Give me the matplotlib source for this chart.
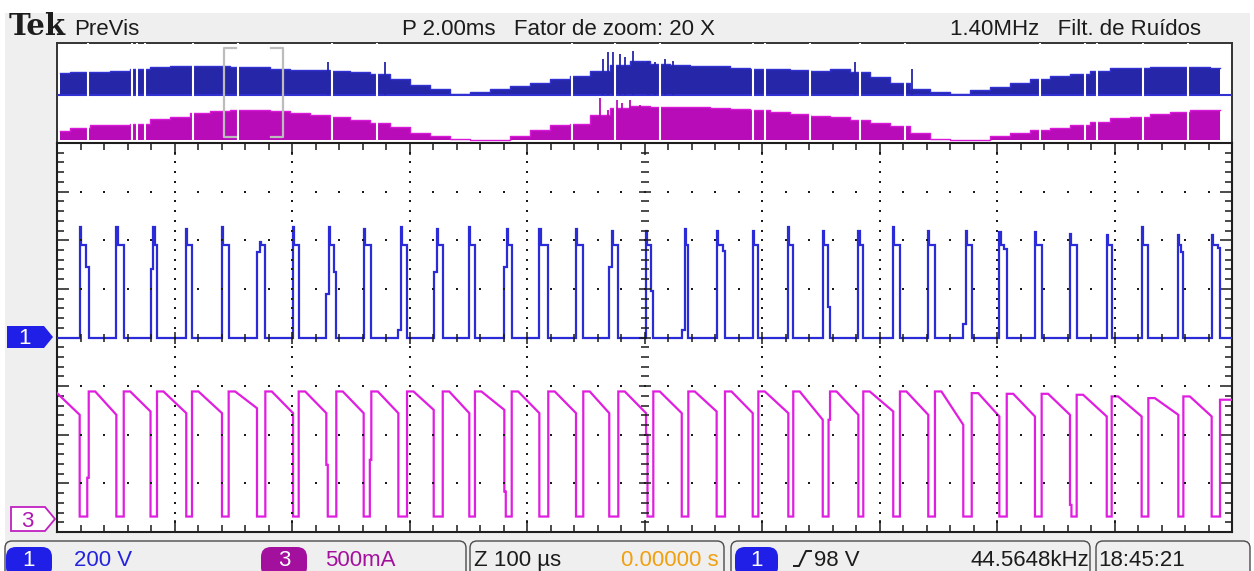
import numpy as np
import matplotlib
matplotlib.use("Agg")
import matplotlib.pyplot as plt
from matplotlib.patches import Rectangle, FancyBboxPatch, Polygon

# ---------------- zoom window: channel 1 (200 V/div) ----------------
ch1_rise_us = [-480.7, -449.5, -420.4, -390.0, -359.6, -329.8, -299.1, -270.8, -239.0, -209.5, -179.4,
               -149.1, -119.3, -89.5, -58.3, -30.0, 1.3, 31.7, 61.4, 92.1, 122.4, 151.7,
               182.0, 211.7, 241.5, 271.3, 302.0, 332.3, 362.1, 393.4, 423.1, 454.3, 482.7]
ch1_fall_us = [-473.0, -443.2, -414.9, -385.1, -353.9, -322.7, -294.3, -262.3, -232.5, -202.1, -171.7,
               -144.3, -113.0, -81.9, -52.1, -22.3, 7.5, 37.3, 68.5, 96.9, 126.6, 157.9,
               186.2, 217.4, 247.2, 278.5, 308.3, 338.0, 367.8, 397.6, 428.8, 458.6, 489.8]
ch1_peak_v = [454, 454, 454, 447, 454, 392, 454, 454, 447, 454, 447,
              454, 447, 447, 447, 440, 440, 447, 440, 440, 454, 440,
              440, 454, 440, 440, 433, 433, 427, 420, 454, 420, 420]
ch1_pre_v = [0, 0, 283, 0, 0, 351, 0, 180, 0, 29, 269,
             0, 289, 0, 0, 289, 0, 29, 0, 0, 0, 0,
             0, 0, 0, 56, 0, 0, 0, 0, 0, 0, 0]
ch1_tail_v = [289, 0, 0, 0, 0, 0, 0, 269, 0, 0, 0,
              0, 0, 0, 0, 0, 193, 0, 355, 0, 0, 125,
              0, 0, 0, 0, 364, 0, 0, 0, 0, 351, 370]
ch1_plateau_v = 382

# ---------------- zoom window: channel 3 (500 mA/div) ----------------
ch3_start_ma = 1303
ch3_end_ma = [1080, 1080, 1114, 1097, 1097, 1148, 1097, 1097, 1097, 1097, 1131,
              1097, 1131, 1097, 1097, 1097, 1097, 1097, 1114, 1097, 1097, 1029,
              1080, 1114, 1080, 977, 1063, 1063, 1080, 1063, 1063, 1080, 1063]
ch3_top_ma = [1320, 1320, 1320, 1320, 1320, 1320, 1320, 1320, 1320, 1320, 1320,
              1320, 1320, 1320, 1320, 1320, 1320, 1320, 1320, 1320, 1320, 1320,
              1320, 1320, 1320, 1303, 1296, 1296, 1286, 1269, 1252, 1269, 1235]
ch3_drop_step_ma = [0, 0, 0, 0, 0, 0, 0, 566, 0, 0, 0,
                    0, 291, 0, 0, 0, 874, 0, 0, 0, 0, 0,
                    0, 0, 0, 0, 0, 0, 154, 0, 0, 0, 0]
ch3_rise_step_ma = [432, 0, 0, 0, 0, 0, 0, 0, 617, 0, 0,
                    0, 0, 0, 0, 0, 0, 0, 0, 0, 0, 1029,
                    0, 0, 0, 0, 0, 0, 0, 0, 0, 0, 0]
ch3_low_ma = 34

# ---------------- record overview (2 ms/div) ----------------
ov_t_ms = [-9.95, -9.60, -9.27, -8.93, -8.59, -8.25, -7.91, -7.57, -7.23, -6.89, -6.54, -6.20,
           -5.86, -5.52, -5.18, -4.84, -4.50, -4.16, -3.82, -3.48, -3.14, -2.80, -2.46, -2.12,
           -1.78, -1.44, -1.10, -0.76, -0.42, -0.08, 0.26, 0.60, 0.94, 1.29, 1.63, 1.97,
           2.31, 2.65, 2.99, 3.33, 3.67, 4.01, 4.35, 4.69, 5.03, 5.37, 5.71, 6.05,
           6.39, 6.73, 7.07, 7.41, 7.75, 8.09, 8.43, 8.77, 9.11, 9.46, 9.80]
ov_ch1_v = [344, 360, 360, 376, 408, 440, 456, 456, 456, 440, 440, 408,
            392, 392, 376, 360, 328, 248, 152, 88, 8, 40, 88, 136,
            184, 248, 296, 376, 472, 536, 488, 472, 456, 456, 424, 408,
            408, 392, 376, 408, 360, 280, 184, 88, 40, 8, 72, 120,
            184, 248, 296, 328, 376, 424, 424, 440, 440, 440, 424]
ov_ch3_ma = [360, 480, 600, 600, 640, 840, 920, 1080, 1160, 1200, 1200, 1160,
             1080, 1000, 920, 800, 680, 520, 280, 160, 40, 0, 0, 160,
             400, 600, 640, 1000, 1280, 1360, 1320, 1320, 1320, 1280, 1240, 1200,
             1120, 1040, 960, 920, 800, 680, 560, 280, 40, 0, 0, 160,
             280, 400, 480, 600, 720, 880, 920, 1040, 1120, 1200, 1200]
ov_gap_ms = [-9.47, -8.72, -8.64, -8.50, -7.69, -6.92, -5.32, -4.55, -1.23, -0.50, 0.26,
             1.85, 2.05, 2.82, 3.67, 4.44, 6.73, 7.50, 7.70, 8.48, 9.25]
ov_ch1_spike_ms = [-5.39, -4.42, -0.71, -0.62, -0.54, -0.42, -0.34, -0.20, 0.06, 0.18, 0.35, 0.48, 3.58, 4.55]
ov_ch1_spike_v = [520, 520, 568, 680, 680, 648, 600, 696, 536, 520, 568, 536, 520, 408]
ov_ch3_spike_ms = [-0.76, -0.62, -0.47, -0.39, -0.25, -0.08]
ov_ch3_spike_ma = [1680, 1200, 1600, 1480, 1600, 1400]

# ---------------- display settings ----------------
V_PER_DIV = 200.0
MA_PER_DIV = 500.0
CH3_OFFSET_DIV = -3.75
OV_CH1_OFFSET_DIV = -0.15
PRE_STEP_US = 2.5
SPIKE_US = 1.0
TAIL_US = 2.0
STEP_US = 2.5
FLAT_US = 5.5
ZOOM_CENTER_MS = -6.66
ZOOM_FACTOR = 20

BLUE = "#2b2bd8"
MAGENTA = "#e01ee0"
OV_BLUE = "#2626a8"
OV_BLUE_EDGE = "#3232d2"
OV_MAG = "#b80cb8"
OV_MAG_EDGE = "#d81ad8"
PANEL = "#efefef"
INK = "#1c1c1c"
UI_FONT = ["Liberation Sans", "DejaVu Sans"]
FS = 16


def ch1_trace():
    t, v = [-500.0], [0.0]
    for r, f, pk, pre, tail in zip(ch1_rise_us, ch1_fall_us, ch1_peak_v, ch1_pre_v, ch1_tail_v):
        t.append(r); v.append(0.0)
        s = r
        if pre:
            t += [r, r + PRE_STEP_US]; v += [pre, pre]
            s = r + PRE_STEP_US
        t += [s, s + SPIKE_US, s + SPIKE_US]; v += [pk, pk, ch1_plateau_v]
        if tail:
            t += [f - TAIL_US, f - TAIL_US, f]; v += [ch1_plateau_v, tail, tail]
        else:
            t += [f]; v += [ch1_plateau_v]
        t.append(f); v.append(0.0)
    t.append(500.0); v.append(0.0)
    return np.array(t), np.array(v)


def ch3_trace():
    t, a = [-500.0], [float(ch3_start_ma)]
    for k in range(len(ch1_rise_us)):
        r, f = ch1_rise_us[k], ch1_fall_us[k]
        t.append(r); a.append(ch3_end_ma[k])
        if ch3_drop_step_ma[k]:
            t += [r, r + STEP_US / 2, r + STEP_US / 2]
            a += [ch3_drop_step_ma[k], ch3_drop_step_ma[k], ch3_low_ma]
        else:
            t.append(r); a.append(ch3_low_ma)
        if ch3_rise_step_ma[k]:
            t += [f - STEP_US / 2, f - STEP_US / 2, f]
            a += [ch3_low_ma, ch3_rise_step_ma[k], ch3_rise_step_ma[k]]
        else:
            t.append(f); a.append(ch3_low_ma)
        t += [f, min(f + FLAT_US, 500.0)]; a += [ch3_top_ma[k]] * 2
    t.append(500.0); a.append(ch3_top_ma[-1])
    return np.array(t), np.array(a)


W, H = 1254, 571
fig = plt.figure(figsize=(W / 100, H / 100), dpi=100)
fig.patch.set_facecolor("white")

# ---------- canvas in pixel units for the instrument frame ----------
cv = fig.add_axes([0, 0, 1, 1])
cv.set_xlim(0, W); cv.set_ylim(H, 0); cv.axis("off")
cv.add_patch(Rectangle((5, 13), 1245, 560, fc=PANEL, ec="none", zorder=0))

# header
cv.text(9, 35, "Tek", fontsize=21, fontweight="bold", family=["DejaVu Serif"], color=INK)
cv.text(74, 35, "PreVis", fontsize=FS, family=UI_FONT, color=INK)
cv.text(402, 35, "P 2.00ms   Fator de zoom: 20 X", fontsize=FS, family=UI_FONT, color=INK)
cv.text(950, 35, "1.40MHz   Filt. de Ruídos", fontsize=FS, family=UI_FONT, color=INK)

# status bar panels
for x0, x1 in [(5, 466), (470, 724), (731, 1090), (1096, 1250)]:
    cv.add_patch(FancyBboxPatch((x0, 541), x1 - x0, 40, boxstyle="round,pad=0,rounding_size=7",
                                fc=PANEL, ec="#4a4a4a", lw=1.0, zorder=1))


def badge(x0, x1, color, label):
    cv.add_patch(FancyBboxPatch((x0, 547), x1 - x0, 30, boxstyle="round,pad=0,rounding_size=10",
                                fc=color, ec="none", zorder=2))
    cv.text((x0 + x1) / 2, 566, label, ha="center", fontsize=FS, family=UI_FONT, color="white", zorder=3)


badge(6, 52, "#1f1fe8", "1")
cv.text(74, 566, "200 V", fontsize=FS, family=UI_FONT, color="#2323e0", zorder=3)
badge(261, 307, "#a3109d", "3")
cv.text(325, 566, "500mA", fontsize=FS, family=UI_FONT, color="#a3109d", zorder=3)
cv.text(474, 566, "Z 100 µs", fontsize=FS, family=UI_FONT, color=INK, zorder=3)
cv.text(719, 566, "0.00000 s", ha="right", fontsize=FS, family=UI_FONT, color="#f0a010", zorder=3)
badge(735, 778, "#1f1fe8", "1")
cv.plot([794, 799, 806, 811], [566, 566, 551, 551], color=INK, lw=1.4, zorder=3)
cv.text(814, 566, "98 V", fontsize=FS, family=UI_FONT, color=INK, zorder=3)
cv.text(1089, 566, "44.5648kHz", ha="right", fontsize=FS, family=UI_FONT, color=INK, zorder=3)
cv.text(1098, 566, "18:45:21", fontsize=FS, family=UI_FONT, color=INK, zorder=3)

# channel ground markers
cv.add_patch(Polygon([[7, 326], [44, 326], [53, 337], [44, 348], [7, 348]], closed=True,
                     fc="#1f1fe8", ec="none", zorder=2))
cv.text(24, 344, "1", ha="center", fontsize=FS, family=UI_FONT, color="white", zorder=3)
cv.add_patch(Polygon([[11, 507], [45, 507], [55, 519], [45, 531], [11, 531]], closed=True,
                     fc="white", ec="#c020c0", lw=1.3, zorder=2))
cv.text(27, 527, "3", ha="center", fontsize=FS, family=UI_FONT, color="#b018b0", zorder=3)

# ---------- record overview ----------
ov = fig.add_axes([57 / W, (H - 143) / H, 1175 / W, 100 / H])
ov.set_xlim(-10, 10); ov.set_ylim(-4, 4)
ov.set_xticks([]); ov.set_yticks([])
for side in ["top", "left", "right"]:
    ov.spines[side].set_color("#333333"); ov.spines[side].set_linewidth(1.4)
ov.spines["bottom"].set_visible(False)

t_ov = np.array(ov_t_ms)
b1 = OV_CH1_OFFSET_DIV
y1 = b1 + np.array(ov_ch1_v) / V_PER_DIV
ov.fill_between(t_ov, b1, y1, step="mid", color=OV_BLUE, lw=0, zorder=2)
ov.step(t_ov, y1, where="mid", color=OV_BLUE_EDGE, lw=1.0, zorder=3)
ov.axhline(b1, color=OV_BLUE_EDGE, lw=1.5, zorder=3)
ov.vlines(ov_ch1_spike_ms, b1, b1 + np.array(ov_ch1_spike_v) / V_PER_DIV, color=OV_BLUE, lw=1.3, zorder=3)

b3 = CH3_OFFSET_DIV
y3 = b3 + np.array(ov_ch3_ma) / MA_PER_DIV
ov.fill_between(t_ov, b3, y3, step="mid", color=OV_MAG, lw=0, zorder=2)
ov.step(t_ov, y3, where="mid", color=OV_MAG_EDGE, lw=1.0, zorder=3)
ov.vlines(ov_ch3_spike_ms, b3, b3 + np.array(ov_ch3_spike_ma) / MA_PER_DIV, color=OV_MAG, lw=1.3, zorder=3)

ov.vlines(ov_gap_ms, -4, 4, color="white", lw=1.5, zorder=4)

# zoom window brackets
half = 20.0 / ZOOM_FACTOR / 2
zl, zr = ZOOM_CENTER_MS - half, ZOOM_CENTER_MS + half
yt, yb = 3.62, -3.5
ov.plot([zl + 0.2, zl, zl, zl + 0.2], [yt, yt, yb, yb], color="#bcbcbc", lw=1.6, zorder=5)
ov.plot([zr - 0.2, zr, zr, zr - 0.2], [yt, yt, yb, yb], color="#bcbcbc", lw=1.6, zorder=5)

# trigger position marker
cv.add_patch(Polygon([[637, 43], [653, 43], [645, 51]], closed=True, fc="#f5a000", ec="none", zorder=6))
cv.add_patch(Polygon([[637, 53], [653, 53], [653, 64], [645, 70], [637, 64]], closed=True,
                     fc="#f4b070", ec="none", zorder=6))
cv.text(645, 65, "T", ha="center", fontsize=9, fontweight="bold", color="white", zorder=7)

# ---------- zoomed waveform graticule ----------
ax = fig.add_axes([57 / W, (H - 532) / H, 1175 / W, 389 / H])
ax.set_xlim(-500, 500); ax.set_ylim(-4, 4)
ax.set_facecolor("white")
ax.set_xticks(np.arange(-500, 501, 100)); ax.set_xticks(np.arange(-500, 501, 20), minor=True)
ax.set_yticks(np.arange(-4, 5, 1)); ax.set_yticks(np.arange(-4, 4.01, 0.2), minor=True)
ax.tick_params(which="both", direction="in", top=True, right=True, bottom=True, left=True,
               labelbottom=False, labelleft=False, color="#1a1a1a")
ax.tick_params(which="major", length=8.5, width=1.1)
ax.tick_params(which="minor", length=4.8, width=1.1)
for s in ax.spines.values():
    s.set_color("#1e1e1e"); s.set_linewidth(1.5)

t1, v1 = ch1_trace()
ax.plot(t1, v1 / V_PER_DIV, color=BLUE, lw=1.6, solid_joinstyle="miter", zorder=3)
t3, a3 = ch3_trace()
ax.plot(t3, CH3_OFFSET_DIV + a3 / MA_PER_DIV, color=MAGENTA, lw=1.6, solid_joinstyle="miter", zorder=3)

# dotted graticule
dot_y = np.arange(-3.8, 3.81, 0.2)
dot_x = np.arange(-480, 481, 20)
for gx in [-400, -300, -200, -100, 100, 200, 300, 400]:
    ax.plot(np.full(dot_y.size, gx), dot_y, ls="none", marker="s", ms=1.5, color="#1a1a1a", mew=0, zorder=4)
for gy in [-3, -2, -1, 1, 2, 3]:
    ax.plot(dot_x, np.full(dot_x.size, gy), ls="none", marker="s", ms=1.5, color="#1a1a1a", mew=0, zorder=4)
# centre crosshair with fine ticks
minor_y = dot_y[np.abs(dot_y - np.round(dot_y)) > 0.05]
major_y = np.array([-3, -2, -1, 1, 2, 3])
ax.plot(np.zeros(minor_y.size), minor_y, ls="none", marker="_", ms=5.5, mew=1.1, color="#1a1a1a", zorder=4)
ax.plot(np.zeros(major_y.size), major_y, ls="none", marker="_", ms=8.5, mew=1.1, color="#1a1a1a", zorder=4)
minor_x = dot_x[dot_x % 100 != 0]
major_x = np.array([-400, -300, -200, -100, 100, 200, 300, 400])
ax.plot(minor_x, np.zeros(minor_x.size), ls="none", marker="|", ms=5.5, mew=1.1, color="#1a1a1a", zorder=4)
ax.plot(major_x, np.zeros(major_x.size), ls="none", marker="|", ms=8.5, mew=1.1, color="#1a1a1a", zorder=4)
ax.plot([0], [0], ls="none", marker="+", ms=8.5, mew=1.1, color="#1a1a1a", zorder=4)

# trigger level / position marker at the right edge
cv.add_patch(Polygon([[1212, 151], [1228, 151], [1220, 143]], closed=True, fc="#2323d0", ec="none", zorder=6))
cv.add_patch(Polygon([[1210, 153], [1225, 153], [1231, 160], [1225, 168], [1210, 168]], closed=True,
                     fc="#f4b070", ec="none", zorder=6))
cv.text(1218, 165, "T", ha="center", fontsize=9, fontweight="bold", color="white", zorder=7)

fig.savefig("out.png", dpi=100, facecolor="white")
